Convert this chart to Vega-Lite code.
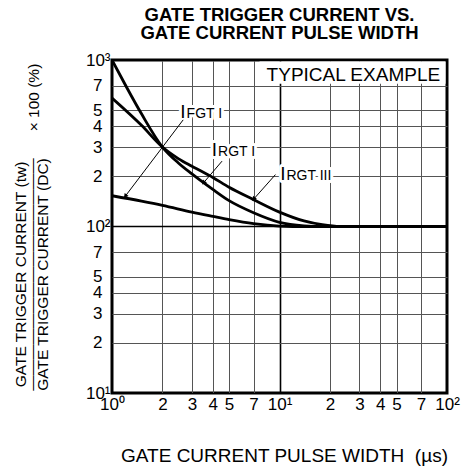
{
  "$schema": "https://vega.github.io/schema/vega-lite/v6.json",
  "width": 335,
  "height": 333,
  "padding": {"left": 112, "top": 60, "right": 16, "bottom": 76},
  "autosize": {"type": "none"},
  "background": "white",
  "config": {
    "font": "Liberation Sans",
    "view": {"stroke": "black", "strokeWidth": 3},
    "axis": {"labelFont": "Liberation Sans", "titleFont": "Liberation Sans", "labelColor": "black", "titleColor": "black", "titleFontWeight": "normal", "domain": false, "ticks": false, "gridOpacity": 1}
  },
  "title": {
    "text": ["GATE TRIGGER CURRENT VS.", "GATE CURRENT PULSE WIDTH"],
    "font": "Liberation Sans",
    "fontSize": 18.5,
    "fontWeight": "bold",
    "lineHeight": 18.6,
    "color": "black",
    "anchor": "middle",
    "frame": "group",
    "offset": 8
  },
  "datasets": {
    "curves": [
      {"curve": "IRGT I", "x": 1, "y": 1000},
      {"curve": "IRGT I", "x": 1.2, "y": 710},
      {"curve": "IRGT I", "x": 1.5, "y": 475},
      {"curve": "IRGT I", "x": 2, "y": 300},
      {"curve": "IRGT I", "x": 2.5, "y": 240},
      {"curve": "IRGT I", "x": 3, "y": 207},
      {"curve": "IRGT I", "x": 4, "y": 167},
      {"curve": "IRGT I", "x": 5, "y": 143},
      {"curve": "IRGT I", "x": 7, "y": 121},
      {"curve": "IRGT I", "x": 10, "y": 106},
      {"curve": "IRGT I", "x": 14, "y": 101},
      {"curve": "IRGT I", "x": 18, "y": 100},
      {"curve": "IRGT I", "x": 100, "y": 100},
      {"curve": "IRGT III", "x": 1, "y": 590},
      {"curve": "IRGT III", "x": 1.5, "y": 405},
      {"curve": "IRGT III", "x": 2, "y": 300},
      {"curve": "IRGT III", "x": 2.5, "y": 255},
      {"curve": "IRGT III", "x": 3, "y": 230},
      {"curve": "IRGT III", "x": 4, "y": 197},
      {"curve": "IRGT III", "x": 5, "y": 172},
      {"curve": "IRGT III", "x": 7, "y": 145},
      {"curve": "IRGT III", "x": 10, "y": 122},
      {"curve": "IRGT III", "x": 14, "y": 108},
      {"curve": "IRGT III", "x": 18, "y": 102.5},
      {"curve": "IRGT III", "x": 23, "y": 100},
      {"curve": "IRGT III", "x": 100, "y": 100},
      {"curve": "IFGT I", "x": 1, "y": 153},
      {"curve": "IFGT I", "x": 1.5, "y": 142},
      {"curve": "IFGT I", "x": 2, "y": 134},
      {"curve": "IFGT I", "x": 3, "y": 122},
      {"curve": "IFGT I", "x": 4, "y": 115},
      {"curve": "IFGT I", "x": 5, "y": 110},
      {"curve": "IFGT I", "x": 7, "y": 104},
      {"curve": "IFGT I", "x": 10, "y": 100.5},
      {"curve": "IFGT I", "x": 12, "y": 100},
      {"curve": "IFGT I", "x": 100, "y": 100}
    ],
    "arrows": [
      {"arrow": "IFGT I", "part": "tail", "x": 2.66, "y": 437},
      {"arrow": "IFGT I", "part": "head", "x": 1.2, "y": 152},
      {"arrow": "IRGT I", "part": "tail", "x": 4.54, "y": 247},
      {"arrow": "IRGT I", "part": "head", "x": 3.52, "y": 183},
      {"arrow": "IRGT III", "part": "tail", "x": 9.46, "y": 205},
      {"arrow": "IRGT III", "part": "head", "x": 7.01, "y": 146}
    ],
    "labels": [
      {"name": "IFGT I", "sub": "FGT I", "x": 2.75, "y": 447},
      {"name": "IRGT I", "sub": "RGT I", "x": 4.24, "y": 264},
      {"name": "IRGT III", "sub": "RGT III", "x": 10.86, "y": 190}
    ],
    "one": [{}]
  },
  "layer": [
    {
      "layer": [
        {
          "data": {"name": "curves"},
          "mark": {"type": "line", "color": "black", "strokeWidth": 2.8, "interpolate": "monotone", "clip": true},
          "encoding": {
            "x": {
              "field": "x", "type": "quantitative",
              "scale": {"type": "log", "domain": [1, 100]},
              "axis": {
                "title": "GATE CURRENT PULSE WIDTH\u00a0 (\u00b5s)",
                "values": [1, 2, 3, 4, 5, 7, 10, 20, 30, 40, 50, 70, 100],
                "labelExpr": "datum.value==1?'10\u2070':datum.value==10?'10\u00b9':datum.value==100?'10\u00b2':datum.value<10?format(datum.value,'d'):format(datum.value/10,'d')",
                "labelFontSize": 17,
                "labelPadding": 3,
                "labelFlush": false,
                "labelOverlap": false,
                "gridColor": {"condition": {"test": "datum.value==1||datum.value==10||datum.value==100", "value": "black"}, "value": "#555"},
                "gridWidth": {"condition": {"test": "datum.value==10", "value": 1.6}, "value": 1},
                "titleFontSize": 19,
                "titleX": 172,
                "titleY": 68.7,
                "titleBaseline": "alphabetic",
                "titleAlign": "center",
                "titleAnchor": "middle"
              }
            },
            "y": {
              "field": "y", "type": "quantitative",
              "scale": {"type": "log", "domain": [10, 1000]},
              "axis": {
                "title": ["GATE TRIGGER CURRENT (tw)", "\u2014\u2014\u2014\u2014\u2014\u2014\u2014\u2014\u2014\u2014\u2014\u2014\u2014\u2014\u2014", "GATE TRIGGER CURRENT (DC)"],
                "values": [10, 20, 30, 40, 50, 70, 100, 200, 300, 400, 500, 700, 1000],
                "labelExpr": "datum.value==10?'10\u00b9':datum.value==100?'10\u00b2':datum.value==1000?'10\u00b3':datum.value<100?format(datum.value/10,'d'):format(datum.value/100,'d')",
                "labelFontSize": 17,
                "labelPadding": {"condition": {"test": "datum.value==10||datum.value==100||datum.value==1000", "value": 2}, "value": 10},
                "labelFlush": false,
                "labelOverlap": false,
                "gridColor": {"condition": {"test": "datum.value==10||datum.value==100||datum.value==1000", "value": "black"}, "value": "#555"},
                "gridWidth": {"condition": {"test": "datum.value==100", "value": 1.6}, "value": 1},
                "titleFontSize": 15.5,
                "titleLineHeight": 11,
                "titleAngle": 270,
                "titleBaseline": "alphabetic",
                "titleAlign": "center",
                "titleX": -87,
                "titleY": 214
              }
            },
            "detail": {"field": "curve"}
          }
        },
        {
          "data": {"name": "one"},
          "mark": {"type": "rect", "fill": "white"},
          "encoding": {
            "x": {"datum": 7.6}, "x2": {"datum": 98},
            "y": {"datum": 980}, "y2": {"datum": 720}
          }
        },
        {
          "data": {"name": "one"},
          "mark": {"type": "text", "text": "TYPICAL EXAMPLE", "align": "right", "baseline": "alphabetic", "fontSize": 19, "font": "Liberation Sans", "color": "black"},
          "encoding": {"x": {"datum": 91}, "y": {"datum": 750}}
        },
        {
          "data": {"name": "labels"},
          "mark": {"type": "text", "text": "I", "align": "right", "baseline": "alphabetic", "fontSize": 19, "font": "Liberation Sans", "fill": "white", "stroke": "white", "strokeWidth": 6, "strokeJoin": "round"},
          "encoding": {"x": {"field": "x", "type": "quantitative"}, "y": {"field": "y", "type": "quantitative"}}
        },
        {
          "data": {"name": "labels"},
          "mark": {"type": "text", "align": "left", "dx": 1, "baseline": "alphabetic", "fontSize": 14, "font": "Liberation Sans", "fill": "white", "stroke": "white", "strokeWidth": 6, "strokeJoin": "round"},
          "encoding": {"x": {"field": "x", "type": "quantitative"}, "y": {"field": "y", "type": "quantitative"}, "text": {"field": "sub"}}
        },
        {
          "data": {"name": "arrows"},
          "mark": {"type": "line", "color": "black", "strokeWidth": 1},
          "encoding": {"x": {"field": "x", "type": "quantitative"}, "y": {"field": "y", "type": "quantitative"}, "detail": {"field": "arrow"}}
        },
        {
          "data": {"name": "arrows"},
          "transform": [{"filter": "datum.part=='head'"}],
          "mark": {"type": "point", "shape": "triangle-up", "filled": true, "color": "black", "opacity": 1, "size": 26, "angle": 219},
          "encoding": {"x": {"field": "x", "type": "quantitative"}, "y": {"field": "y", "type": "quantitative"}}
        },
        {
          "data": {"name": "labels"},
          "mark": {"type": "text", "text": "I", "align": "right", "baseline": "alphabetic", "fontSize": 19, "font": "Liberation Sans", "color": "black"},
          "encoding": {"x": {"field": "x", "type": "quantitative"}, "y": {"field": "y", "type": "quantitative"}}
        },
        {
          "data": {"name": "labels"},
          "mark": {"type": "text", "align": "left", "dx": 1, "baseline": "alphabetic", "fontSize": 14, "font": "Liberation Sans", "color": "black"},
          "encoding": {"x": {"field": "x", "type": "quantitative"}, "y": {"field": "y", "type": "quantitative"}, "text": {"field": "sub"}}
        }
      ]
    },
    {
      "data": {"name": "curves"},
      "mark": {"type": "point", "opacity": 0},
      "encoding": {
        "x": {"field": "x", "type": "quantitative", "scale": {"type": "log", "domain": [1, 100]}},
        "y": {
          "field": "y", "type": "quantitative",
          "scale": {"type": "log", "domain": [10, 1000]},
          "axis": {
            "orient": "left",
            "title": "\u00d7 100 (%)",
            "labels": false, "grid": false, "ticks": false, "domain": false,
            "titleFontSize": 15.5,
            "titleAngle": 270,
            "titleBaseline": "alphabetic",
            "titleAlign": "center",
            "titleX": -74,
            "titleY": 37
          }
        }
      }
    }
  ],
  "resolve": {"scale": {"y": "independent"}, "axis": {"y": "independent"}}
}
